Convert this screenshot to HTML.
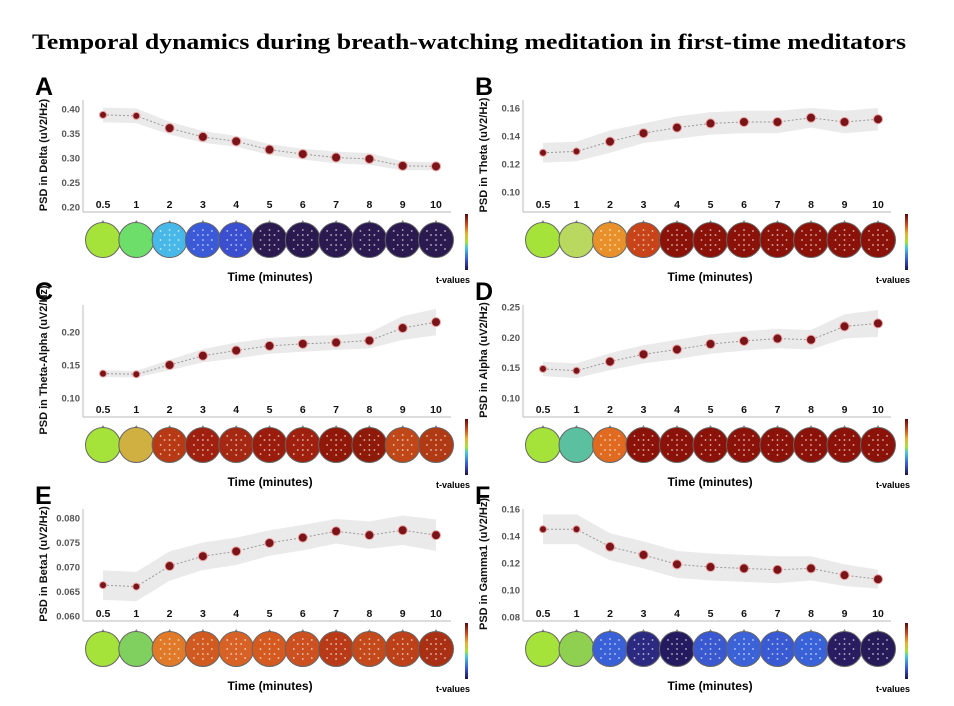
<!DOCTYPE html>
<html><head><meta charset="utf-8"><style>
html,body{margin:0;padding:0;background:#fff;}
svg{display:block;font-family:"Liberation Sans",sans-serif;}
</style></head><body>
<svg id="fig" width="954" height="706" viewBox="0 0 954 706">
<defs>
<linearGradient id="cbar" x1="0" y1="1" x2="0" y2="0">
<stop offset="0" stop-color="#1a1450"/><stop offset="0.2" stop-color="#3a5ad8"/><stop offset="0.4" stop-color="#48c8d8"/><stop offset="0.5" stop-color="#a5e23a"/><stop offset="0.65" stop-color="#e8b030"/><stop offset="0.8" stop-color="#d05020"/><stop offset="1" stop-color="#5a0808"/>
</linearGradient>
</defs>
<text x="32" y="49" font-family="Liberation Serif, serif" font-weight="bold" font-size="22.5" textLength="874" lengthAdjust="spacingAndGlyphs">Temporal dynamics during breath-watching meditation in first-time meditators</text>
</svg>
<script>
const categories = ["0.5","1","2","3","4","5","6","7","8","9","10"];
const valsA = [0.388,0.386,0.361,0.343,0.334,0.317,0.308,0.301,0.298,0.284,0.283];
const semA  = [0.015,0.015,0.013,0.012,0.011,0.011,0.011,0.012,0.012,0.009,0.008];
const ticksA = [0.20,0.25,0.30,0.35,0.40];
const valsB = [0.128,0.129,0.136,0.142,0.146,0.149,0.150,0.150,0.153,0.150,0.152];
const semB  = [0.007,0.007,0.008,0.007,0.008,0.008,0.008,0.008,0.007,0.008,0.008];
const ticksB = [0.10,0.12,0.14,0.16];
const valsC = [0.137,0.136,0.150,0.164,0.172,0.179,0.182,0.184,0.187,0.206,0.215];
const semC  = [0.005,0.005,0.008,0.010,0.012,0.012,0.012,0.011,0.012,0.018,0.020];
const ticksC = [0.10,0.15,0.20];
const valsD = [0.148,0.145,0.160,0.172,0.180,0.189,0.194,0.198,0.196,0.218,0.223];
const semD  = [0.012,0.012,0.014,0.015,0.016,0.016,0.016,0.016,0.016,0.020,0.022];
const ticksD = [0.10,0.15,0.20,0.25];
const valsE = [0.0663,0.0660,0.0702,0.0722,0.0732,0.0749,0.0760,0.0773,0.0765,0.0775,0.0765];
const semE  = [0.0030,0.0030,0.0030,0.0028,0.0028,0.0026,0.0026,0.0025,0.0028,0.0030,0.0032];
const ticksE = [0.060,0.065,0.070,0.075,0.080];
const valsF = [0.145,0.145,0.132,0.126,0.119,0.117,0.116,0.115,0.116,0.111,0.108];
const semF  = [0.011,0.011,0.010,0.010,0.010,0.010,0.010,0.010,0.009,0.008,0.007];
const ticksF = [0.08,0.10,0.12,0.14,0.16];
const topoA = ["#a5e23a","#6ede6a","#48b8e8","#3a5ad8","#3a4ed0","#2a1a50","#2a1a50","#2a1a50","#2a1a50","#2a1a50","#2a1a50"];
const topoB = ["#a5e23a","#b8d860","#e8902a","#c84418","#8a1208","#8a1208","#8a1208","#8a1208","#8a1208","#8a1208","#8a1208"];
const topoC = ["#a5e23a","#d0b040","#b83a14","#a02010","#a52812","#9a1c0c","#a02010","#901808","#8e1a0a","#c04818","#b03a14"];
const topoD = ["#a5e23a","#5ac0a0","#e06a20","#8a1208","#8a1208","#8a1208","#8a1208","#8a1208","#8a1208","#8a1208","#8a1208"];
const topoE = ["#a5e23a","#80d060","#e07a28","#d05a20","#d86226","#d45a20","#cc5020","#b83a16","#c44a1c","#bc4018","#aa3014"];
const topoF = ["#a5e23a","#90d050","#3a60d8","#2c2a80","#241a60","#3a58d0","#3c62d8","#3a5ad4","#3a62d8","#2a1c60","#261a58"];

const NS="http://www.w3.org/2000/svg";
const svg=document.getElementById('fig');
function mk(tag,attrs,parent){const e=document.createElementNS(NS,tag);for(const k in attrs)e.setAttribute(k,attrs[k]);(parent||svg).appendChild(e);return e;}

function drawPanel(letter,label,vals,sem,ticks,topo,g){
  const grp=mk('g',{});
  
  
  const yScale=v=>g.yT+(v-g.vT)*(g.yB-g.yT)/(g.vB-g.vT);
  const xScale=i=>g.x0+i*g.step;
  const L=mk('text',{x:g.ax-48,y:g.bottom-117,'font-size':25,'font-weight':'bold'},grp);L.textContent=letter;
  
  
  let up=[],dn=[];
  vals.forEach((v,i)=>{up.push(xScale(i)+','+yScale(v+sem[i]));dn.unshift(xScale(i)+','+yScale(v-sem[i]));});
  const band=mk('polygon',{points:up.concat(dn).join(' '),fill:'#eaeaea',stroke:'none'},grp);
  
  
  mk('line',{x1:g.ax,y1:g.bottom-112,x2:g.ax,y2:g.bottom,stroke:'#c8c8c8','stroke-width':1.2},grp);
  mk('line',{x1:g.ax,y1:g.bottom,x2:g.ax+368,y2:g.bottom,stroke:'#c8c8c8','stroke-width':1.2},grp);
  ticks.forEach(t=>{
    const y=yScale(t);
    const tx=mk('text',{x:g.ax-3,y:y+3.5,'font-size':9.5,'text-anchor':'end',fill:'#555','font-weight':'bold'},grp);
    tx.textContent=t.toFixed(g.dec);
    
    
  });
  const yl=mk('text',{transform:`translate(${g.ax-36},${g.bottom-57}) rotate(-90)`,'font-size':11,'font-weight':'bold','text-anchor':'middle',fill:'#111'},grp);
  yl.textContent=label;
  
  
  const pl=mk('polyline',{points:vals.map((v,i)=>xScale(i)+','+yScale(v)).join(' '),fill:'none',stroke:'#999','stroke-width':1,'stroke-dasharray':'2,2'},grp);
  
  
  vals.forEach((v,i)=>{
    const c=mk('circle',{cx:xScale(i),cy:yScale(v),r:i<2?3.5:4.5,fill:'#7a1418',stroke:'#e8a0a0','stroke-width':1},grp);
    
    
  });
  categories.forEach((c,i)=>{
    const t=mk('text',{x:xScale(i),y:g.bottom-4,'font-size':10.5,'font-weight':'bold','text-anchor':'middle',fill:'#111'},grp);
    t.textContent=c;
    
    
  });
  const cy=g.bottom+28;
  topo.forEach((col,i)=>{
    const cx=xScale(i);
    const tg=mk('g',{},grp);
    
    
    mk('polygon',{points:`${cx-2},${cy-17} ${cx},${cy-20} ${cx+2},${cy-17}`,fill:'#888'},tg);
    mk('ellipse',{cx:cx,cy:cy,rx:17.5,ry:17.5,fill:col,stroke:'#666','stroke-width':1},tg);
    if(i>1){
      [[0,-10],[0,-5],[0,0],[0,5],[0,10],[-9,-9],[9,-9],[-9,9],[-9,0],[9,0],[9,9],[-5,-5],[5,-5],[-5,5],[5,5]].forEach(d=>{
        mk('circle',{cx:cx+d[0],cy:cy+d[1],r:0.9,fill:'#fff',opacity:0.7},tg);
      });
    }
  });
  const cb=mk('rect',{x:g.ax+382,y:g.bottom+2,width:3,height:56,fill:'url(#cbar)'},grp);
  
  
  const tl=mk('text',{x:g.ax+187,y:g.bottom+69,'font-size':12,'font-weight':'bold','text-anchor':'middle'},grp);
  tl.textContent='Time  (minutes)';
  
  
  const tv=mk('text',{x:g.ax+370,y:g.bottom+71,'font-size':9,'font-weight':'bold','text-anchor':'middle'},grp);
  tv.textContent='t-values';
  
  
}
drawPanel('A','PSD in Delta (uV2/Hz)',valsA,semA,ticksA,topoA,{ax:83,x0:103,step:33.3,bottom:212,vT:0.40,yT:109,vB:0.20,yB:207,dec:2});
drawPanel('B','PSD in Theta (uV2/Hz)',valsB,semB,ticksB,topoB,{ax:523,x0:543,step:33.5,bottom:212,vT:0.16,yT:108,vB:0.10,yB:192,dec:2});
drawPanel('C','PSD in Theta-Alpha (uV2/Hz)',valsC,semC,ticksC,topoC,{ax:83,x0:103,step:33.3,bottom:417,vT:0.20,yT:332,vB:0.10,yB:398,dec:2});
drawPanel('D','PSD in Alpha (uV2/Hz)',valsD,semD,ticksD,topoD,{ax:523,x0:543,step:33.5,bottom:417,vT:0.25,yT:307,vB:0.10,yB:398,dec:2});
drawPanel('E','PSD in Beta1 (uV2/Hz)',valsE,semE,ticksE,topoE,{ax:83,x0:103,step:33.3,bottom:621,vT:0.080,yT:518,vB:0.060,yB:616,dec:3});
drawPanel('F','PSD in Gamma1 (uV2/Hz)',valsF,semF,ticksF,topoF,{ax:523,x0:543,step:33.5,bottom:621,vT:0.16,yT:509,vB:0.08,yB:617,dec:2});
</script>
</body></html>
